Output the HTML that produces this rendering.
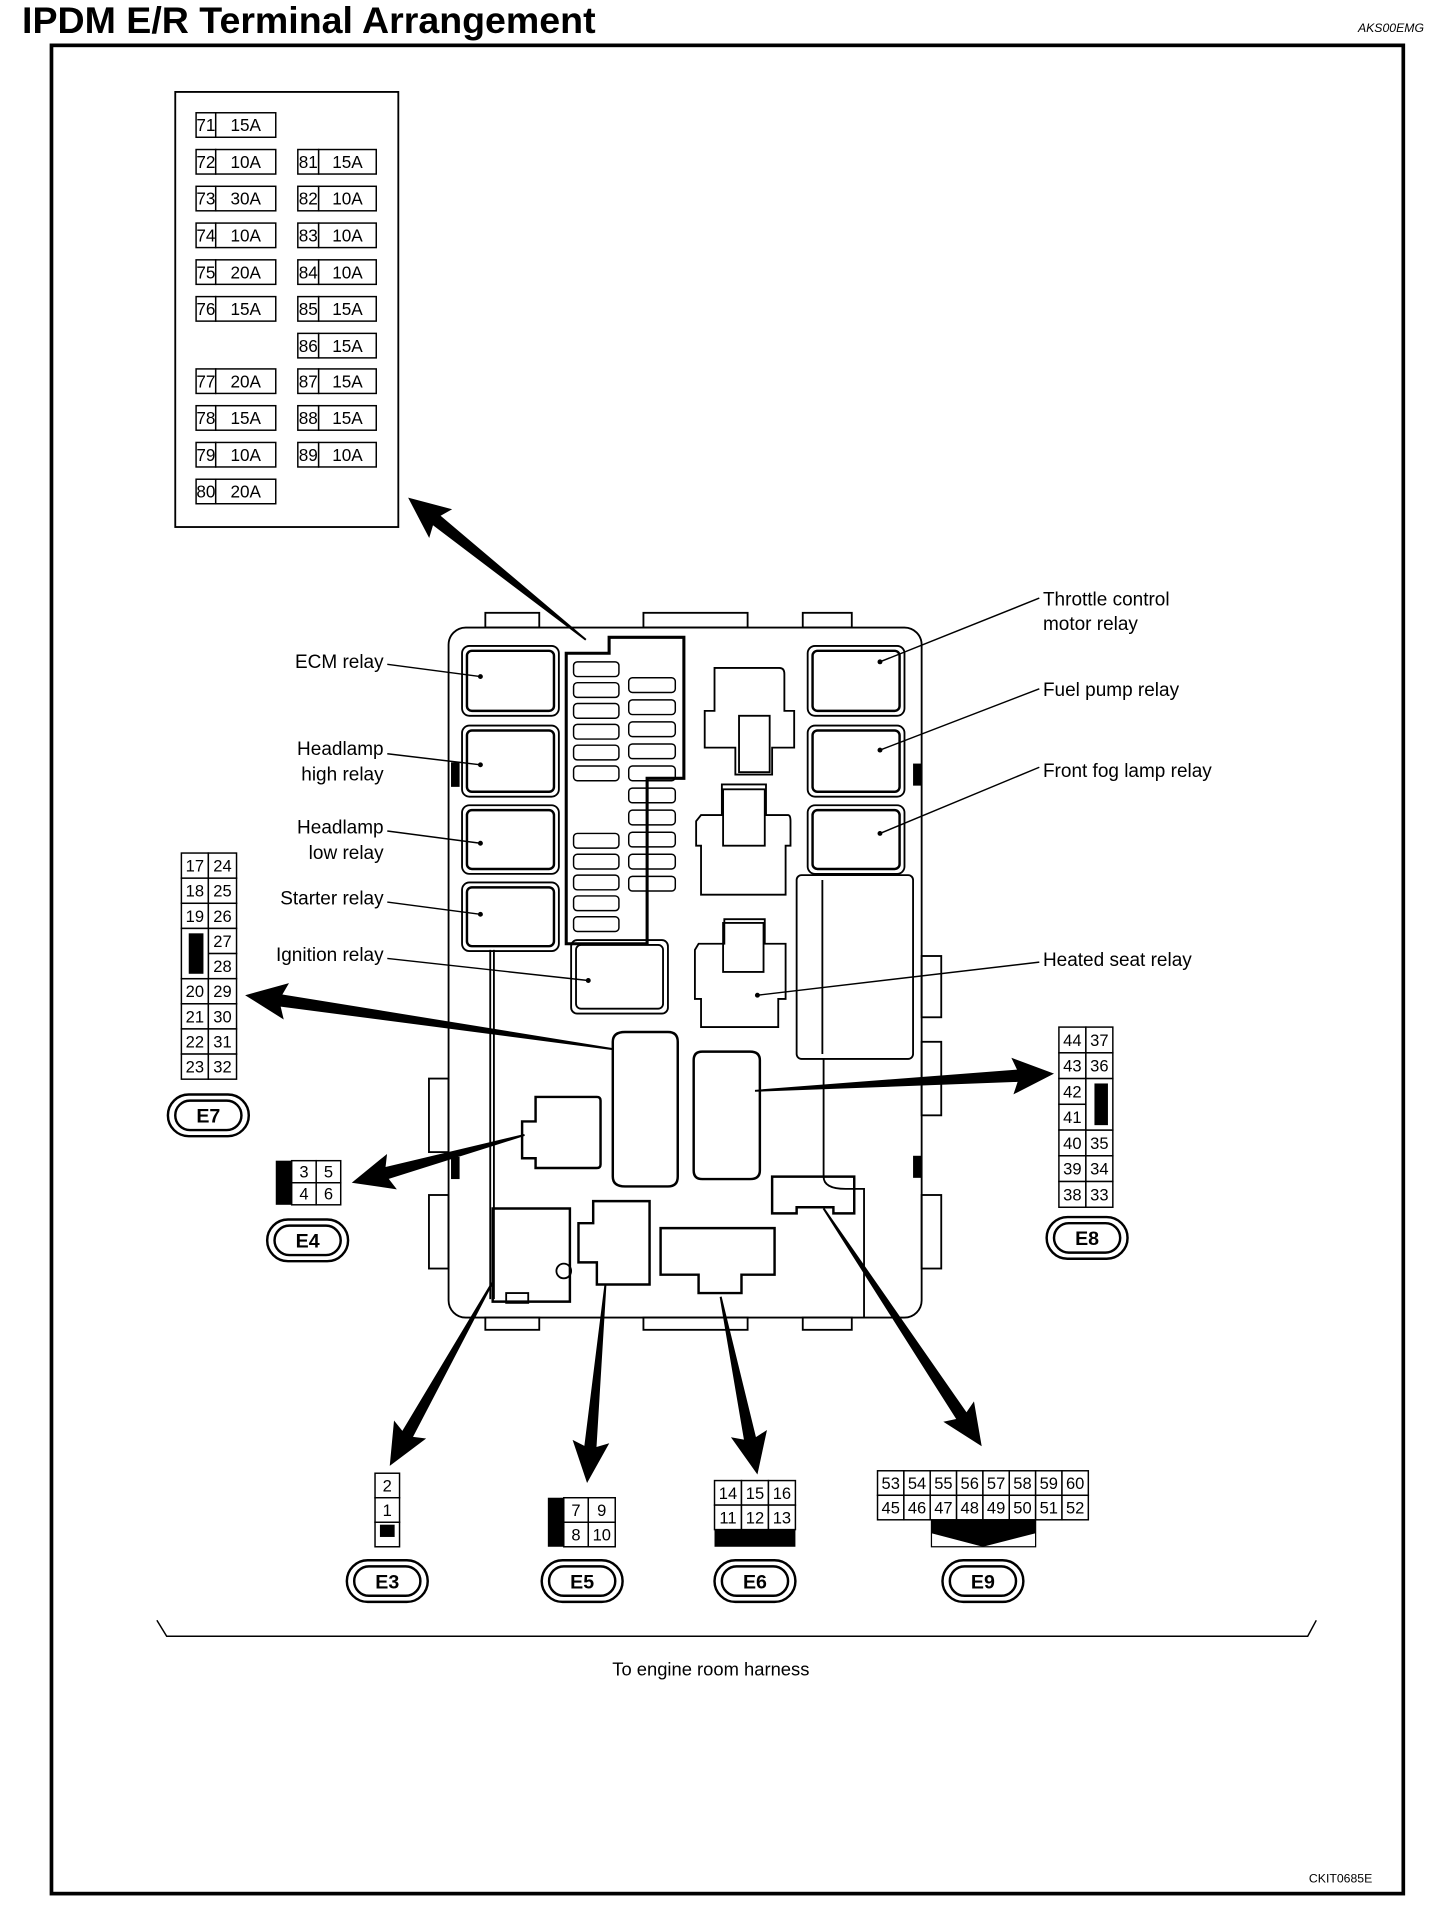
<!DOCTYPE html>
<html><head><meta charset="utf-8"><style>
html,body{margin:0;padding:0;background:#fff}
svg{display:block}
text{font-family:"Liberation Sans",Arial,sans-serif;fill:#000}
</style></head><body>
<svg id="s" width="1456" height="1912" viewBox="0 0 1188 1560" preserveAspectRatio="none" xmlns="http://www.w3.org/2000/svg">
<rect width="1188" height="1560" fill="#fff"/>
<text x="18" y="27" font-size="30" font-weight="bold" textLength="468" lengthAdjust="spacingAndGlyphs">IPDM E/R Terminal Arrangement</text>
<text x="1108" y="26" font-size="10" font-style="italic">AKS00EMG</text>
<rect x="42" y="37" width="1103" height="1508" fill="none" stroke="#000" stroke-width="3"/>
<rect x="143" y="75" width="182" height="355" fill="none" stroke="#000" stroke-width="1.5"/>
<g id="fuses"></g>
<g fill="none" stroke="#000" stroke-width="1.5">
<rect x="366" y="512" width="386" height="563" rx="14"/>
<rect x="396" y="500" width="44" height="12"/><rect x="525" y="500" width="85" height="12"/><rect x="655" y="500" width="40" height="12"/>
<rect x="396" y="1075" width="44" height="10"/><rect x="525" y="1075" width="85" height="10"/><rect x="655" y="1075" width="40" height="10"/>
<line x1="400" y1="775" x2="400" y2="1060"/><line x1="403" y1="775" x2="403" y2="1060"/>
<rect x="650" y="714" width="95" height="150" rx="4"/>
<line x1="671" y1="718" x2="671" y2="860"/>
<path d="M672 864 V960 Q672 970 690 970 H705 V1075"/>
<rect x="350" y="880" width="16" height="60"/><rect x="350" y="975" width="16" height="60"/>
<rect x="752" y="850" width="16" height="60"/><rect x="752" y="975" width="16" height="60"/>
<rect x="752" y="780" width="16" height="50"/>
<path d="M462 533 H497 V520 H558 V635 H528 V770 H462 Z" stroke-width="2.5"/>
<path d="M583 545 H636 Q640 545 640 550 V580 H648 V610 H630 V632 H600 V610 H575 V580 H583 Z"/>
<rect x="603" y="584" width="25" height="46"/>
<path d="M572 665 H589 V640 H625 V665 H643 Q645 665 645 670 V690 H641 V730 H572 V690 H568 V670 Z"/>
<rect x="590" y="644" width="34" height="46"/>
<path d="M570 770 H591 V750 H624 V770 H641 V815 H635 V838 H572 V815 H567 V775 Z"/>
<rect x="590" y="753" width="33" height="40"/>
<rect x="466" y="767" width="79" height="60" rx="5"/><rect x="470" y="771" width="71" height="52" rx="4"/>
<path d="M500 850 Q500 842 510 842 H545 Q553 842 553 850 V960 Q553 968 545 968 H510 Q500 968 500 960 Z" stroke-width="2"/>
<path d="M566 865 Q566 858 573 858 H612 Q620 858 620 865 V955 Q620 962 612 962 H573 Q566 962 566 955 Z" stroke-width="2"/>
<path d="M437 895 H487 Q490 895 490 898 V950 Q490 953 487 953 H437 V945 H426 V915 H437 Z" stroke-width="2"/>
<path d="M402 986 H465 V1062 H402 Z" stroke-width="2"/>
<rect x="413" y="1055" width="18" height="8"/>
<circle cx="460" cy="1037" r="6"/>
<path d="M484 980 H530 V1048 H487 V1030 H472 V998 H484 Z" stroke-width="2"/>
<path d="M539 1002 H632 V1040 H605 V1055 H570 V1040 H539 Z" stroke-width="2"/>
<path d="M630 960 H697 V990 H680 V985 H650 V990 H630 Z" stroke-width="2"/>
</g>
<g id="relays"></g>
<g id="grids"></g>
<g id="arrows"></g>
<g font-size="15.5">
<text x="313" y="545" text-anchor="end">ECM relay</text>
<text x="313" y="616" text-anchor="end">Headlamp</text>
<text x="313" y="637" text-anchor="end">high relay</text>
<text x="313" y="680" text-anchor="end">Headlamp</text>
<text x="313" y="701" text-anchor="end">low relay</text>
<text x="313" y="738" text-anchor="end">Starter relay</text>
<text x="313" y="784" text-anchor="end">Ignition relay</text>
<text x="851" y="494">Throttle control</text>
<text x="851" y="514">motor relay</text>
<text x="851" y="568">Fuel pump relay</text>
<text x="851" y="634">Front fog lamp relay</text>
<text x="851" y="788">Heated seat relay</text>
<text x="580" y="1367" text-anchor="middle" font-size="15">To engine room harness</text>
</g>
<g stroke="#000" stroke-width="1.2" fill="none">
<line x1="316" y1="542" x2="392" y2="552"/>
<line x1="316" y1="615" x2="392" y2="624"/>
<line x1="316" y1="678" x2="392" y2="688"/>
<line x1="316" y1="736" x2="392" y2="746"/>
<line x1="316" y1="782" x2="480" y2="800"/>
<line x1="848" y1="488" x2="718" y2="540"/>
<line x1="848" y1="562" x2="718" y2="612"/>
<line x1="848" y1="626" x2="718" y2="680"/>
<line x1="848" y1="785" x2="618" y2="812"/>
<path d="M128 1322 L136 1335 H1067 L1074 1322"/>
</g>
<g fill="#000">
<circle cx="392" cy="552" r="2"/><circle cx="392" cy="624" r="2"/><circle cx="392" cy="688" r="2"/><circle cx="392" cy="746" r="2"/><circle cx="480" cy="800" r="2"/>
<circle cx="718" cy="540" r="2"/><circle cx="718" cy="612" r="2"/><circle cx="718" cy="680" r="2"/><circle cx="618" cy="812" r="2"/>
<rect x="368" y="622" width="7" height="20"/><rect x="745" y="623" width="7" height="18"/>
<rect x="368" y="944" width="7" height="18"/><rect x="745" y="943" width="7" height="18"/>
</g>
<text x="1068" y="1536" font-size="10">CKIT0685E</text>
</svg>
<script>
var NS="http://www.w3.org/2000/svg";
function el(p,t,a,txt){var e=document.createElementNS(NS,t);for(var k in a)e.setAttribute(k,a[k]);if(txt!=null)e.textContent=txt;document.getElementById(p).appendChild(e);return e;}
function cell(p,x,y,w,h,t,fs){el(p,"rect",{x:x,y:y,width:w,height:h,fill:"#fff",stroke:"#000","stroke-width":1.2});if(t!=null&&t!=="")el(p,"text",{x:x+w/2,y:y+h/2+fs*0.36,"font-size":fs,"text-anchor":"middle"},t);}
function blk(p,x,y,w,h){el(p,"rect",{x:x,y:y,width:w,height:h,fill:"#000"});}
var rows=[102,132,162,192,222,252,282,311,341,371,401];
var L={0:["71","15A"],1:["72","10A"],2:["73","30A"],3:["74","10A"],4:["75","20A"],5:["76","15A"],7:["77","20A"],8:["78","15A"],9:["79","10A"],10:["80","20A"]};
var R={1:["81","15A"],2:["82","10A"],3:["83","10A"],4:["84","10A"],5:["85","15A"],6:["86","15A"],7:["87","15A"],8:["88","15A"],9:["89","10A"]};
for(var i in L){cell("fuses",160,rows[i]-10,16,20,L[i][0],14);cell("fuses",176,rows[i]-10,49,20,L[i][1],14);}
for(var i in R){cell("fuses",243,rows[i]-10,17,20,R[i][0],14);cell("fuses",260,rows[i]-10,47,20,R[i][1],14);}
function relay(x,y,w,h){el("relays","rect",{x:x,y:y,width:w,height:h,rx:6,fill:"none",stroke:"#000","stroke-width":1.5});el("relays","rect",{x:x+4,y:y+4,width:w-8,height:h-8,rx:4,fill:"none",stroke:"#000","stroke-width":2});}
[[527,57],[592,58],[657,56],[720,56]].forEach(function(r){relay(377,r[0],79,r[1]);});
[[527,57],[592,58],[657,56]].forEach(function(r){relay(659,r[0],79,r[1]);});
for(var j=0;j<6;j++){el("relays","rect",{x:468,y:540+j*17,width:37,height:12,rx:3,fill:"none",stroke:"#000","stroke-width":1.2});}
for(var j=0;j<5;j++){el("relays","rect",{x:468,y:680+j*17,width:37,height:12,rx:3,fill:"none",stroke:"#000","stroke-width":1.2});}
for(var j=0;j<10;j++){el("relays","rect",{x:513,y:553+j*18,width:38,height:12,rx:3,fill:"none",stroke:"#000","stroke-width":1.2});}
var e7l=["17","18","19",null,null,"20","21","22","23"],e7r=["24","25","26","27","28","29","30","31","32"];
var y0=696,rh=20.5;
for(var k=0;k<9;k++){if(e7l[k])cell("grids",148,y0+k*rh,22,rh,e7l[k],13.5);cell("grids",170,y0+k*rh,23,rh,e7r[k],13.5);}
cell("grids",148,y0+3*rh,22,2*rh,"",14);blk("grids",154,y0+3*rh+4,12,2*rh-8);
var e8l=["44","43","42","41","40","39","38"],e8r=["37","36",null,null,"35","34","33"];y0=838;rh=21;
for(var k=0;k<7;k++){cell("grids",864,y0+k*rh,22,rh,e8l[k],13.5);if(e8r[k])cell("grids",886,y0+k*rh,22,rh,e8r[k],13.5);}
cell("grids",886,y0+2*rh,22,2*rh,"",14);blk("grids",893,y0+2*rh+4,11,2*rh-8);
blk("grids",225,947,13,36);cell("grids",238,947,20,18,"3",13.5);cell("grids",258,947,20,18,"5",13.5);cell("grids",238,965,20,18,"4",13.5);cell("grids",258,965,20,18,"6",13.5);
cell("grids",306,1202,20,20,"2",13.5);cell("grids",306,1222,20,20,"1",13.5);cell("grids",306,1242,20,20,"",14);blk("grids",310,1244,12,10);
blk("grids",447,1222,13,40);cell("grids",460,1222,20,20,"7",13.5);cell("grids",480,1222,22,20,"9",13.5);cell("grids",460,1242,20,20,"8",13.5);cell("grids",480,1242,22,20,"10",13.5);
["14","15","16"].forEach(function(t,i){cell("grids",583+i*22,1208,22,20,t,13.5);});
["11","12","13"].forEach(function(t,i){cell("grids",583+i*22,1228,22,20,t,13.5);});
blk("grids",583,1248,66,14);
["53","54","55","56","57","58","59","60"].forEach(function(t,i){cell("grids",716+i*21.5,1200,21.5,20,t,13.5);});
["45","46","47","48","49","50","51","52"].forEach(function(t,i){cell("grids",716+i*21.5,1220,21.5,20,t,13.5);});
el("grids","rect",{x:760,y:1240,width:85,height:22,fill:"#fff",stroke:"#000","stroke-width":1});
el("grids","path",{d:"M760 1240 H845 V1251 L802 1262 L760 1251 Z",fill:"#000"});
function oval(cx,cy,t){el("grids","rect",{x:cx-33,y:cy-17,width:66,height:34,rx:17,fill:"#fff",stroke:"#000","stroke-width":2});el("grids","rect",{x:cx-27,y:cy-12,width:54,height:24,rx:12,fill:"none",stroke:"#000","stroke-width":2});el("grids","text",{x:cx,y:cy+6,"font-size":16,"font-weight":"bold","text-anchor":"middle"},t);}
oval(170,910,"E7");oval(251,1012,"E4");oval(887,1010,"E8");oval(316,1290,"E3");oval(475,1290,"E5");oval(616,1290,"E6");oval(802,1290,"E9");
function arrow(tx,ty,px,py){var dx=px-tx,dy=py-ty,l=Math.hypot(dx,dy);dx/=l;dy/=l;var nx=-dy,ny=dx;var hl=30,hx=px-dx*hl,hy=py-dy*hl,sw=5,hw=15;
var pts=[[tx+nx*0.8,ty+ny*0.8],[hx+nx*sw,hy+ny*sw],[hx+nx*hw-dx*4,hy+ny*hw-dy*4],[px,py],[hx-nx*hw-dx*4,hy-ny*hw-dy*4],[hx-nx*sw,hy-ny*sw],[tx-nx*0.8,ty-ny*0.8]];
el("arrows","polygon",{points:pts.map(function(p){return p[0].toFixed(1)+","+p[1].toFixed(1)}).join(" "),fill:"#000"});}
arrow(478,522,333,406);
arrow(500,856,200,812);
arrow(428,926,287,965);
arrow(616,890,860,876);
arrow(402,1046,318,1196);
arrow(494,1048,479,1210);
arrow(588,1058,618,1203);
arrow(672,986,801,1180);
</script>
</body></html>
